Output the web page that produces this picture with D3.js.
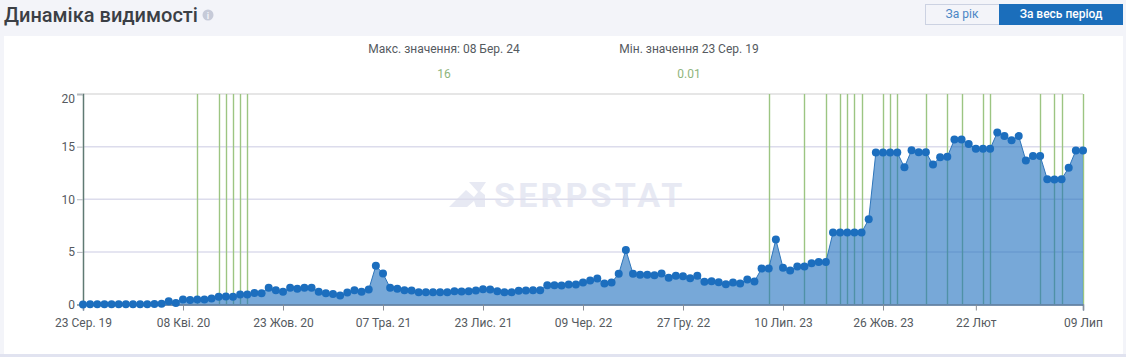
<!DOCTYPE html>
<html>
<head>
<meta charset="utf-8">
<script src="https://cdn.jsdelivr.net/npm/d3@7"></script>
<style>
html, body { margin: 0; padding: 0; background: #f3f4f9; overflow: hidden; }
text { font-family: Roboto, sans-serif; }
</style>
</head>
<body>
<div class="box"></div>
<script>
// значення видимості (точка раз на два тижні)
const visibility = [
    0.01, 0.02, 0.02, 0.02, 0.02, 0.02, 0.02, 0.03, 0.03, 0.03, 0.04, 0.07,
    0.3, 0.15, 0.48, 0.42, 0.48, 0.48, 0.57, 0.73, 0.76, 0.73, 0.95, 0.95,
    1.1, 1.08, 1.6, 1.36, 1.2, 1.58, 1.49, 1.6, 1.58, 1.2, 1.08, 1.0,
    0.85, 1.14, 1.36, 1.2, 1.42, 3.67, 2.94, 1.58, 1.49, 1.36, 1.33, 1.17,
    1.17, 1.17, 1.17, 1.17, 1.27, 1.23, 1.27, 1.33, 1.46, 1.42, 1.27, 1.17,
    1.17, 1.3, 1.33, 1.36, 1.36, 1.84, 1.84, 1.8, 1.9, 1.9, 2.09, 2.28,
    2.47, 2.0, 2.09, 2.91, 5.19, 2.91, 2.82, 2.82, 2.78, 2.94, 2.53, 2.72,
    2.69, 2.5, 2.72, 2.15, 2.2, 2.12, 1.93, 2.09, 2.0, 2.37, 2.18, 3.42,
    3.42, 6.17, 3.5, 3.22, 3.6, 3.6, 3.92, 4.04, 4.04, 6.83, 6.83, 6.83,
    6.83, 6.83, 8.1, 14.43, 14.43, 14.43, 14.43, 13.04, 14.66, 14.47, 14.47, 13.3,
    14.0, 14.03, 15.67, 15.67, 15.26, 14.79, 14.79, 14.79, 16.34, 16.02, 15.6, 16.0,
    13.68, 14.12, 14.12, 11.9, 11.87, 11.9, 13.0, 14.63, 14.63
];

// вертикальні позначки (номери точок)
const markers = [16, 19, 20, 21, 22, 23, 96, 101, 104, 106, 107, 108, 109, 112, 113, 114, 118, 121, 123, 126, 127, 134, 136, 137, 140];

const xTickIndex = [0, 14, 28, 42, 56, 70, 84, 98, 112, 125, 140];
const xTickLabels = ['23 Сер. 19', '08 Кві. 20', '23 Жов. 20', '07 Тра. 21', '23 Лис. 21', '09 Чер. 22', '27 Гру. 22', '10 Лип. 23', '26 Жов. 23', '22 Лют', '09 Лип'];
const yTicks = [0, 5, 10, 15, 20];

const svg = d3.select('.box')
              .append('svg')
              .attr('width', 1126)
              .attr('height', 357)
              .style('display', 'block');

// заголовок
svg.append('text')
   .attr('x', 4).attr('y', 22)
   .attr('font-size', 20).attr('font-weight', 500)
   .attr('fill', '#3b3f45')
   .text('Динаміка видимості');

svg.append('circle').attr('cx', 208).attr('cy', 15).attr('r', 5.5).attr('fill', '#c6cad8');
svg.append('text')
   .attr('x', 208).attr('y', 18.5)
   .attr('text-anchor', 'middle')
   .attr('font-size', 9).attr('font-weight', 700)
   .attr('fill', '#f3f4f9')
   .text('i');

// кнопки
svg.append('rect').attr('x', 925.5).attr('y', 4.5).attr('width', 74).attr('height', 20)
   .attr('fill', '#f3f4f9').attr('stroke', '#ccd2e2');
svg.append('rect').attr('x', 999).attr('y', 4).attr('width', 124).attr('height', 21).attr('fill', '#1b6ebb');
svg.append('text').attr('x', 962).attr('y', 18).attr('text-anchor', 'middle')
   .attr('font-size', 12).attr('fill', '#4a86c5').text('За рік');
svg.append('text').attr('x', 1061).attr('y', 18).attr('text-anchor', 'middle')
   .attr('font-size', 12).attr('font-weight', 500).attr('fill', '#fff').text('За весь період');

// панель
svg.append('rect').attr('x', 0).attr('y', 354).attr('width', 1126).attr('height', 3).attr('fill', '#e1e3f0');
svg.append('rect').attr('x', 4).attr('y', 36).attr('width', 1119).attr('height', 318).attr('fill', '#fff');

// макс / мін
const info = svg.append('g').attr('text-anchor', 'middle').attr('font-size', 12);
info.append('text').attr('x', 444).attr('y', 53).attr('fill', '#555a60').text('Макс. значення: 08 Бер. 24');
info.append('text').attr('x', 444).attr('y', 78).attr('fill', '#8fb57c').text('16');
info.append('text').attr('x', 689).attr('y', 53).attr('fill', '#555a60').text('Мін. значення 23 Сер. 19');
info.append('text').attr('x', 689).attr('y', 78).attr('fill', '#8fb57c').text('0.01');

// шкали
const x = d3.scaleLinear().domain([0, visibility.length - 1]).range([83, 1083]);
const y = d3.scaleLinear().domain([0, 20]).range([304.5, 94]);

// водяний знак
const mark = svg.append('g').attr('fill', '#e7e9f3');
mark.append('path').attr('d', 'M449 207 L466 190 L474 197 L478 192 L469 182 L486 182 L480 191 L485 195 L485 207 L476 207 L474 201 L467 207 Z');
mark.append('text')
    .attr('x', 494).attr('y', 207)
    .attr('font-size', 34).attr('font-weight', 700)
    .attr('letter-spacing', 3.2)
    .text('SERPSTAT');

// сітка
svg.append('g')
   .selectAll('line')
   .data(yTicks.slice(1))
   .enter()
   .append('line')
   .attr('x1', 83).attr('x2', 1083)
   .attr('y1', d => y(d)).attr('y2', d => y(d))
   .attr('stroke', d => d === 20 ? '#e6e6e6' : '#dcdcec')
   .attr('stroke-width', d => d === 20 ? 2 : 1.5);

// зелені позначки
svg.append('g')
   .selectAll('line')
   .data(markers)
   .enter()
   .append('line')
   .attr('x1', d => Math.round(x(d)) + 0.5).attr('x2', d => Math.round(x(d)) + 0.5)
   .attr('y1', 94).attr('y2', 304)
   .attr('stroke', '#9cc582')
   .attr('stroke-width', 1.4);

// площа
const area = d3.area()
               .x((d, i) => x(i))
               .y0(y(0))
               .y1(d => y(d));

const line = d3.line()
               .x((d, i) => x(i))
               .y(d => y(d));

svg.append('path')
   .attr('d', area(visibility))
   .attr('fill', '#1c6ebe')
   .attr('fill-opacity', 0.6);

svg.append('path')
   .attr('d', line(visibility))
   .attr('fill', 'none')
   .attr('stroke', '#2f76bb')
   .attr('stroke-width', 1);

// осі
const xAxis = d3.axisBottom(x)
                .tickValues(xTickIndex)
                .tickFormat((d, i) => xTickLabels[i])
                .tickSize(6)
                .tickPadding(8);

const gx = svg.append('g')
              .attr('transform', `translate(0, ${y(0)})`)
              .call(xAxis);
gx.select('.domain').attr('stroke', '#4a6d94').attr('stroke-width', 1.5);
gx.selectAll('.tick line').attr('stroke', '#8b8f96');
gx.selectAll('.tick text').attr('font-size', 12).attr('fill', '#555a60').attr('font-family', 'Roboto, sans-serif');

const yAxis = d3.axisLeft(y)
                .tickValues(yTicks)
                .tickSize(6)
                .tickPadding(2);

const gy = svg.append('g')
              .attr('transform', 'translate(83, 0)')
              .call(yAxis);
gy.select('.domain').attr('stroke', '#5f7a73').attr('stroke-width', 1.5);
gy.selectAll('.tick line').attr('stroke', '#b5b8bf');
gy.selectAll('.tick text')
  .attr('font-size', 12)
  .attr('fill', '#555a60')
  .attr('font-family', 'Roboto, sans-serif')
  .attr('dy', d => d === 20 ? '0.72em' : '0.32em');

// точки
svg.append('g')
   .selectAll('circle')
   .data(visibility)
   .enter()
   .append('circle')
   .attr('cx', (d, i) => x(i))
   .attr('cy', d => y(d))
   .attr('r', 4)
   .attr('fill', '#1c6ebe');
</script>
</body>
</html>
